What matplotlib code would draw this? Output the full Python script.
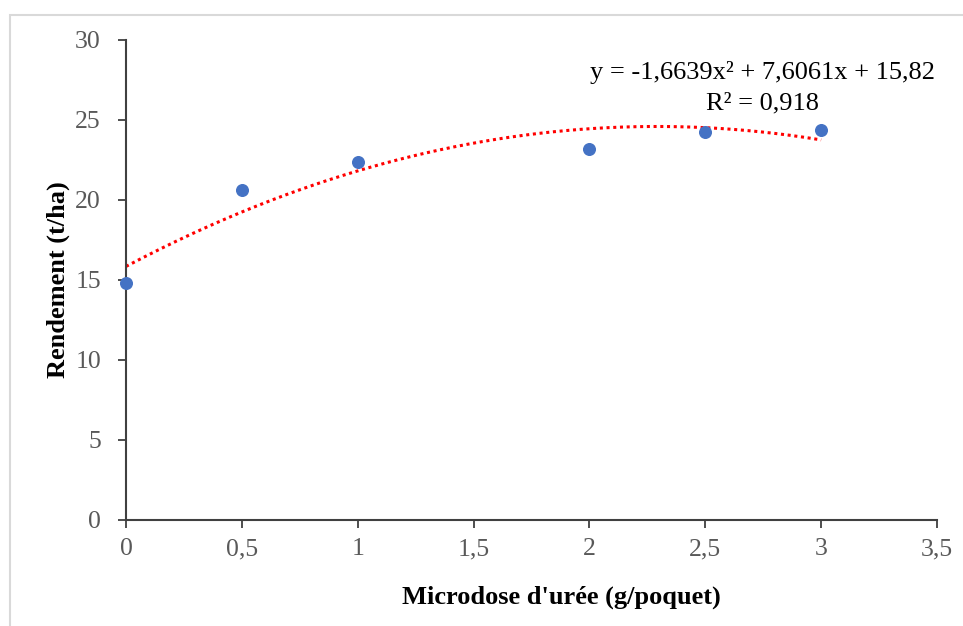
import matplotlib.pyplot as plt
import numpy as np
from matplotlib.patches import Rectangle

plt.rcParams['font.family'] = ['Liberation Serif', 'DejaVu Serif']

# data
doses = [0, 0.5, 1, 2, 2.5, 3]
rendement = [14.8, 20.6, 22.4, 23.2, 24.25, 24.4]
x_ticks = [0, 0.5, 1, 1.5, 2, 2.5, 3, 3.5]
x_tick_labels = ["0", "0,5", "1", "1,5", "2", "2,5", "3", "3,5"]
y_ticks = [0, 5, 10, 15, 20, 25, 30]
equation = "y = -1,6639x² + 7,6061x + 15,82"
r2_label = "R² = 0,918"

W, H = 963, 626
fig = plt.figure(figsize=(W / 100, H / 100), dpi=100)
ax = fig.add_axes([126 / W, 1 - 520 / H, (937 - 126) / W, (520 - 40) / H])

# chart area border (light grey, as in the Excel export)
fig.patches.append(Rectangle((10 / W, -0.05), 1.2, 1 - 15 / H + 0.05,
                             transform=fig.transFigure, fill=False,
                             edgecolor="#d9d9d9", linewidth=1.5))

# polynomial trend line (order 2)
coef = np.polyfit(doses, rendement, 2)
xs = np.linspace(min(doses), max(doses), 200)
ax.plot(xs, np.polyval(coef, xs), color="#ff0000", linestyle=(0, (1, 1.2)),
        linewidth=2.2, zorder=2)

ax.scatter(doses, rendement, s=70, color="#4472c4", zorder=3, clip_on=False)

ax.set_xlim(0, 3.5)
ax.set_ylim(0, 30)
ax.set_xticks(x_ticks)
ax.set_xticklabels(x_tick_labels)
ax.set_yticks(y_ticks)

for side in ["top", "right"]:
    ax.spines[side].set_visible(False)
for side in ["left", "bottom"]:
    ax.spines[side].set_color("#404040")
    ax.spines[side].set_linewidth(1.5)

ax.tick_params(axis="both", colors="#404040", labelcolor="#595959",
               labelsize=18.5, length=6, width=1.3)
ax.tick_params(axis="x", pad=7)
ax.tick_params(axis="y", pad=12)

ax.set_xlabel("Microdose d'urée (g/poquet)", fontsize=19, fontweight="bold")
ax.set_ylabel("Rendement (t/ha)", fontsize=19, fontweight="bold")
ax.xaxis.set_label_coords((561 - 126) / 811, -(597 - 520) / 480,
                          transform=ax.transAxes)
ax.yaxis.set_label_coords(-(126 - 58) / 811, 0.5, transform=ax.transAxes)
ax.xaxis.label.set_va("center")
ax.yaxis.label.set_va("center")

fig.text(762 / W, 1 - 73 / H, equation, fontsize=19, ha="center",
         va="center")
fig.text(762 / W, 1 - 103 / H, r2_label, fontsize=19, ha="center",
         va="center")

fig.savefig("out.png", dpi=100)
